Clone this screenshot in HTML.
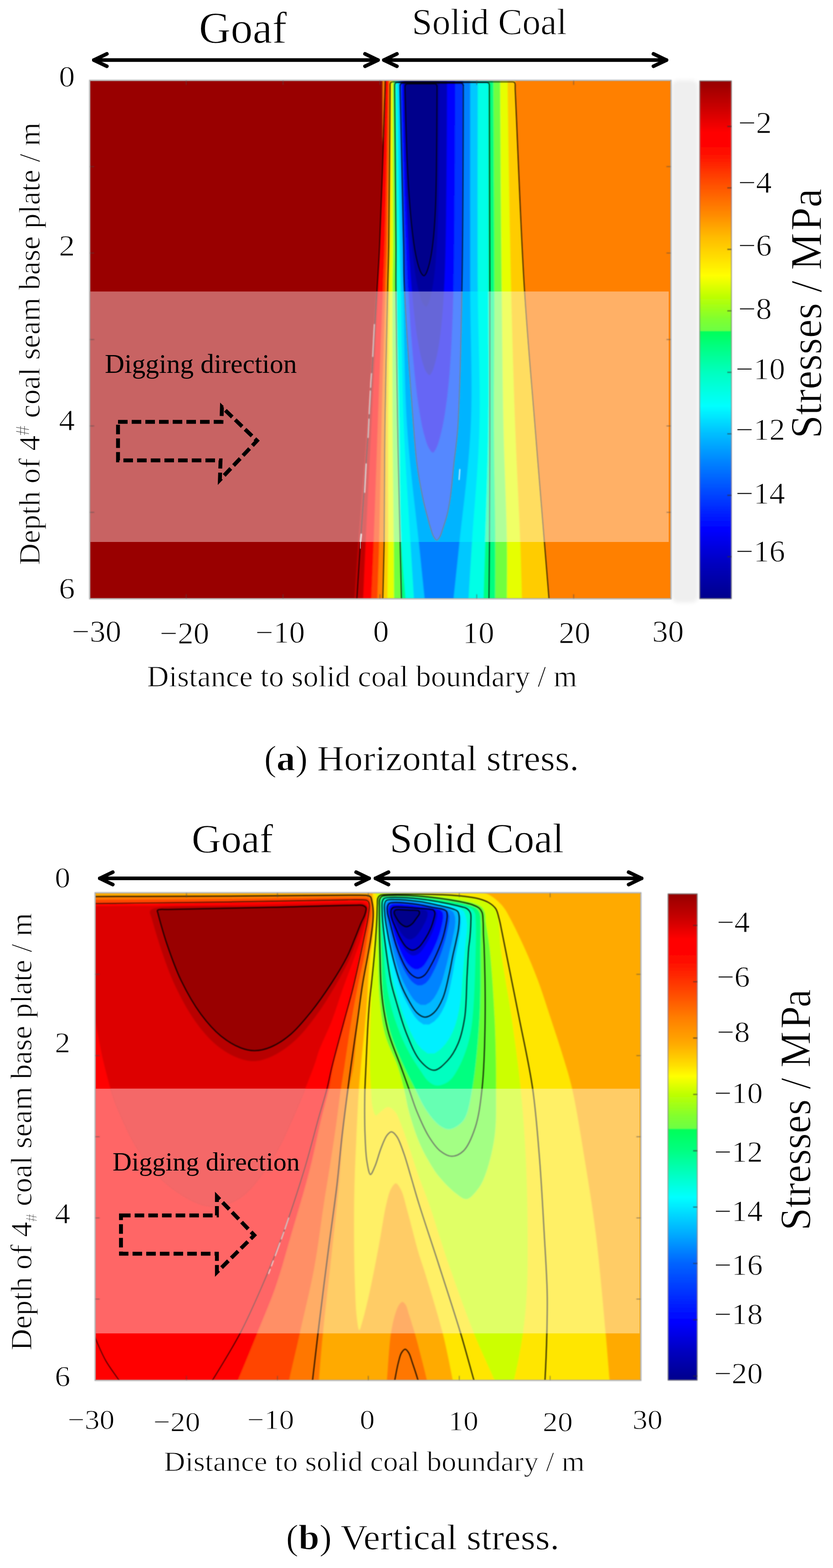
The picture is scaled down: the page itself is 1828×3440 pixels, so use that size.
<!DOCTYPE html>
<html lang="en"><head><meta charset="utf-8"><title>Stress distribution</title>
<style>html,body{margin:0;padding:0;background:#fff}svg{display:block}text{font-family:'Liberation Serif', 'Times New Roman', serif;fill:#000}.w text{stroke:#fff;stroke-width:1.1px}.w text.k{stroke:none}</style>
</head><body>
<svg width="1828" height="3440" viewBox="0 0 1828 3440">
<defs>
<filter id="blur1" x="-5%" y="-5%" width="110%" height="110%"><feGaussianBlur stdDeviation="1.4"/></filter>
<filter id="blur2" x="-5%" y="-5%" width="110%" height="110%"><feGaussianBlur stdDeviation="0.9"/></filter>
<filter id="blur3" x="-20%" y="-5%" width="140%" height="110%"><feGaussianBlur stdDeviation="4"/></filter>
<filter id="blurT" x="-5%" y="-20%" width="110%" height="140%"><feGaussianBlur stdDeviation="0.6"/></filter>
<clipPath id="clipA"><rect x="197.7" y="177.2" width="1273.9" height="1135.6"/></clipPath>
<clipPath id="clipAov"><rect x="197.7" y="639.5" width="1269.8" height="549.5"/></clipPath>
<clipPath id="clipB"><rect x="209.6" y="1959.5" width="1195.9" height="1068"/></clipPath>
<clipPath id="clipBov"><rect x="209.6" y="2388.5" width="1195.9" height="536.8"/></clipPath>
<linearGradient id="cbA" gradientUnits="userSpaceOnUse" x1="0" y1="177.5" x2="0" y2="1313.5"><stop offset="0.0000" stop-color="#960000"/><stop offset="0.0462" stop-color="#c40000"/><stop offset="0.0990" stop-color="#ff0000"/><stop offset="0.1342" stop-color="#ff0800"/><stop offset="0.1888" stop-color="#ff4400"/><stop offset="0.2557" stop-color="#ff8800"/><stop offset="0.3015" stop-color="#ffbb00"/><stop offset="0.3499" stop-color="#ffe600"/><stop offset="0.3763" stop-color="#ffff00"/><stop offset="0.4151" stop-color="#c0ff00"/><stop offset="0.4599" stop-color="#80ff30"/><stop offset="0.4824" stop-color="#6cff44"/><stop offset="0.4833" stop-color="#00ff58"/><stop offset="0.5128" stop-color="#00ff80"/><stop offset="0.5638" stop-color="#00ffc0"/><stop offset="0.6281" stop-color="#00ffff"/><stop offset="0.6800" stop-color="#00c0ff"/><stop offset="0.7390" stop-color="#0080ff"/><stop offset="0.8033" stop-color="#0040ff"/><stop offset="0.8675" stop-color="#0000ff"/><stop offset="0.9318" stop-color="#0000c0"/><stop offset="1.0000" stop-color="#00008c"/></linearGradient>
<linearGradient id="cbB" gradientUnits="userSpaceOnUse" x1="0" y1="1961" x2="0" y2="3028"><stop offset="0.0000" stop-color="#960000"/><stop offset="0.0459" stop-color="#c40000"/><stop offset="0.0928" stop-color="#ff0000"/><stop offset="0.1331" stop-color="#ff0800"/><stop offset="0.1978" stop-color="#ff4400"/><stop offset="0.2568" stop-color="#ff8000"/><stop offset="0.3083" stop-color="#ffaa00"/><stop offset="0.3533" stop-color="#ffe000"/><stop offset="0.3749" stop-color="#ffff00"/><stop offset="0.4114" stop-color="#c0ff00"/><stop offset="0.4583" stop-color="#80ff30"/><stop offset="0.4827" stop-color="#6cff44"/><stop offset="0.4836" stop-color="#00ff58"/><stop offset="0.5267" stop-color="#00ff80"/><stop offset="0.5754" stop-color="#00ffc0"/><stop offset="0.6242" stop-color="#00ffff"/><stop offset="0.7020" stop-color="#00a8ff"/><stop offset="0.7591" stop-color="#0064ff"/><stop offset="0.8238" stop-color="#0030ff"/><stop offset="0.8819" stop-color="#0000ff"/><stop offset="0.9410" stop-color="#0000c0"/><stop offset="1.0000" stop-color="#00008c"/></linearGradient>
</defs>
<rect width="1828" height="3440" fill="#fff"/>
<g id="figA" class="w">
<text x="436.5" y="93.5" font-size="96.5" text-anchor="start">Goaf</text>
<text x="904" y="75" font-size="80" text-anchor="start">Solid Coal</text>
<g fill="none" stroke="#000" stroke-linecap="round" stroke-linejoin="round">
<path d="M206 131.8H829.5" stroke-width="8"/><path d="M234.5 118.2L206 131.8L234.5 145.4" stroke-width="8"/><path d="M801 118.2L829.5 131.8L801 145.4" stroke-width="8"/>
<path d="M842.5 131.8H1462.5" stroke-width="8"/><path d="M871 118.2L842.5 131.8L871 145.4" stroke-width="8"/><path d="M1434 118.2L1462.5 131.8L1434 145.4" stroke-width="8"/>
</g>
<rect x="1474" y="176" width="58" height="1146" rx="14" fill="#efefef" filter="url(#blur3)"/>
<g clip-path="url(#clipA)">
<g filter="url(#blur1)">
<path d="M195.7 175.2H1473.6V1315.8H195.7Z" fill="#990000"/>
<path d="M840 170H1473.6V1320H840Z" fill="#ff8000"/>
<path d="M845 174C844.8 181.3 844.9 184.3 844.5 196C843.1 242.3 835.2 463 831.3 540C829.3 579 828.2 589.8 825.7 628C821.1 699.1 812.4 835.8 805.5 933C799.2 1022.1 791.2 1118.5 786.1 1189C782.5 1238.7 780.3 1273.7 777.4 1316L1205 1316C1201.6 1273.7 1198.7 1238.5 1194.7 1189C1189.1 1119.4 1181.3 1025.9 1174.4 938C1166.7 840.8 1157.6 742.3 1150.7 631C1142.5 498.7 1131.8 249.2 1130.6 196C1130.3 184 1130.6 181.3 1130.6 174Z" fill="#bd0000"/>
<path d="M846.3 174C846.2 181.3 846.2 184.3 845.9 196C844.6 242.3 837.9 463 834.7 540C833.1 579 832.2 589.8 830.3 628C826.8 699.1 820.1 835.8 815.2 933C810.8 1022.1 805.8 1118.5 802.5 1189C800.1 1238.7 798.7 1273.7 796.8 1316L1205 1316C1201.6 1273.7 1198.7 1238.5 1194.7 1189C1189.1 1119.4 1181.3 1025.9 1174.4 938C1166.7 840.8 1157.6 742.3 1150.7 631C1142.5 498.7 1131.8 249.2 1130.6 196C1130.3 184 1130.6 181.3 1130.6 174Z" fill="#ff0000"/>
<path d="M851.4 174C851.3 181.3 851.3 184.3 851.2 196C850.4 242.3 846.3 463 844 540C842.9 579 842.1 589.8 840.6 628C837.9 699.1 832.5 835.8 829 933C825.8 1022.1 822.8 1118.5 820.1 1189C818.2 1238.7 816.7 1273.7 814.9 1316L1205 1316C1201.6 1273.7 1198.7 1238.5 1194.7 1189C1189.1 1119.4 1181.3 1025.9 1174.4 938C1166.7 840.8 1157.6 742.3 1150.7 631C1142.5 498.7 1131.8 249.2 1130.6 196C1130.3 184 1130.6 181.3 1130.6 174Z" fill="#ff4000"/>
<path d="M853.8 174C853.8 181.3 853.8 184.3 853.7 196C853.2 242.3 850.5 463 848.7 540C847.8 579 847.1 589.8 846 628C843.9 699.1 839.6 835.8 837.2 933C835 1022.1 833.9 1118.5 832.1 1189C830.8 1238.7 829.4 1273.7 828 1316L1205 1316C1201.6 1273.7 1198.7 1238.5 1194.7 1189C1189.1 1119.4 1181.3 1025.9 1174.4 938C1166.7 840.8 1157.6 742.3 1150.7 631C1142.5 498.7 1131.8 249.2 1130.6 196C1130.3 184 1130.6 181.3 1130.6 174Z" fill="#ff8000"/>
<path d="M856 174C856 181.3 856.1 184.3 856 196C855.8 242.3 854.3 463 853 540C852.4 579 851.7 589.8 850.9 628C849.3 699.1 846 835.8 844.7 933C843.5 1022.1 844.1 1118.5 843 1189C842.2 1238.7 841 1273.7 840 1316L1205 1316C1201.6 1273.7 1198.7 1238.5 1194.7 1189C1189.1 1119.4 1181.3 1025.9 1174.4 938C1166.7 840.8 1157.6 742.3 1150.7 631C1142.5 498.7 1131.8 249.2 1130.6 196C1130.3 184 1130.6 181.3 1130.6 174Z" fill="#ffcc00"/>
<path d="M858.5 174C858.5 181.3 858.5 184.3 858.5 196C858.4 242.3 857.9 463 857 540C856.6 579 856 589.8 855.4 628C854.3 699.1 852.2 835.8 851.7 933C851.1 1022.1 852.2 1118.5 851.8 1189C851.5 1238.7 850.8 1273.7 850.2 1316L1145.4 1316C1144.2 1273.7 1143.5 1238.5 1141.7 1189C1139.1 1119.4 1133.8 1025.9 1130.6 938C1127 840.8 1124.1 742.2 1121.5 631C1118.4 498.6 1114.5 249.2 1114 196C1113.9 184 1114 181.3 1114 174Z" fill="#e6ff00"/>
<path d="M862 174C862 181.3 862 184.3 862 196C862 242.3 863 463 862.6 540C862.4 579 861.9 589.8 861.6 628C861.2 699.1 860.9 835.8 861.4 933C861.8 1022.1 863.5 1118.5 864 1189C864.4 1238.7 864.4 1273.7 864.6 1316L1112.5 1316C1112.5 1273.7 1113.2 1238.5 1112.5 1189C1111.5 1119.4 1106.9 1025.9 1105 938C1102.9 840.8 1102.1 742.2 1101 631C1099.6 498.6 1097.9 249.2 1097.7 196C1097.7 184 1097.7 181.3 1097.7 174Z" fill="#70ff40"/>
<path d="M866 174C866 181.3 865.9 184.3 866 196C866.2 242.3 868.8 463 869 540C869.1 579 868.6 589.8 868.8 628C869.2 699.1 870.9 835.8 872.5 933C874 1022.1 876.4 1118.5 878 1189C879.1 1238.7 880 1273.7 881 1316L1087 1316C1087 1273.7 1087.3 1238.5 1087 1189C1086.6 1119.4 1084.4 1025.9 1084 938C1083.6 840.8 1085.1 742.2 1085 631C1084.9 498.6 1083.1 249.2 1083 196C1083 184 1083 181.3 1083 174Z" fill="#00ff80"/>
<path d="M867.5 174C867.7 181.3 867.8 184.3 868 196C868.7 242.3 870.8 463 871 540C871.1 579 870.3 589.8 870.6 628C871.1 699.1 874.3 835.8 876 933C877.6 1022.1 877.4 1118.5 880.6 1189C882.9 1238.7 886.9 1273.7 890 1316L1061 1316C1062.3 1273.7 1063.5 1238.5 1065 1189C1067.1 1119.4 1070.8 1025.9 1072 938C1073.4 840.8 1072 742.2 1072 631C1072 498.6 1072 249.2 1072 196C1072 184 1072 181.3 1072 174Z" fill="#00ffe6"/>
<path d="M872.5 174C872.7 181.3 872.8 184.3 873 196C873.8 242.3 875.5 463 877 540C877.7 579 878.4 589.8 879.3 628C881 699.1 882.1 835.8 886 933C889.5 1022.1 896.5 1118.5 900.7 1189C903.7 1238.7 905.9 1273.7 908.5 1316L1028 1316C1030.6 1273.7 1032.7 1238.5 1035.8 1189C1040.2 1119.4 1049.7 1025.9 1052 938C1054.6 840.9 1049.1 742.2 1048.4 631C1047.6 498.6 1048.4 249.2 1048.4 196C1048.4 184 1048.4 181.3 1048.4 174Z" fill="#00c8ff"/>
<path d="M876.5 174C876.7 181.3 876.8 184.3 877 196C877.9 242.3 881.4 463 883 540C883.8 579 884.2 589.8 885.2 628C887 699.1 886.8 835.9 893 933C898.7 1022.2 911.8 1118.5 919 1189C924.1 1238.7 927.7 1273.7 932 1316L995 1316C999.5 1273.7 1003.4 1238.5 1008.4 1189C1015.5 1119.5 1028.8 1026 1033 938C1037.6 840.9 1032.2 742.2 1032 631C1031.8 498.6 1032 249.2 1032 196C1032 184 1032 181.3 1032 174Z" fill="#0080ff"/>
<path d="M878 174C878 181.3 877.9 184.3 878 196C878.5 242.3 884.5 463 886 540C886.8 579 885.8 589.9 887.4 628C890.3 699.1 902 862.2 907.5 933C910.4 970.8 911.7 992.3 915.3 1020C918.7 1045.5 923.8 1072.8 928 1093C931 1107.5 933.9 1118.1 937 1130C939.9 1141.1 943.2 1153.4 946 1162C947.9 1168 949.1 1173 951.5 1177C953.5 1180.3 956.2 1185 958.5 1185C960.8 1185 963.5 1180.3 965.5 1177C967.9 1173 969 1168 971 1162C973.9 1153.4 978.2 1141.1 981 1130C984 1118.2 985.9 1107.5 988 1093C991 1072.8 993 1045 995.7 1020C998.5 993.5 1002.1 974.1 1004.6 938C1009.4 868.3 1011.7 742.2 1013.7 631C1016.1 498.6 1016.5 249.2 1016.7 196C1016.7 184 1016.7 181.3 1016.7 174Z" fill="#0030ff"/>
<path d="M882 174C882 181.3 881.9 184.6 882 196C882.5 236.8 886.1 394.9 888.8 474.9C890.8 535.5 892.5 581.2 895.6 634.3C898.7 687.5 902.6 746.4 907.2 793.8C910.8 832 914.6 867.6 919.4 897.4C923.1 920.1 927.2 941.4 931.6 957.1C934.6 967.8 937.3 977.1 941.2 983.4C943.8 987.8 947.3 993.1 950 993C952.6 992.9 955.1 987.5 957.4 983.4C960.4 977.7 962.7 970.1 965.2 961.1C968.8 948.3 972.4 931.3 975.5 913.3C979.4 890.2 982.6 862.9 985.3 833.6C988.6 797.8 990.8 757.3 992.6 714C994.8 663 995.5 612.7 996.5 546.7C998 451.2 998.8 242.8 999 196C999 184.3 999 181.3 999 174Z" fill="#0000ff"/>
<path d="M885.5 174C885.5 181.3 885.4 184.9 885.5 196C886 231.2 889 352.5 891.2 415.4C892.9 463.1 894.3 499.1 896.9 540.8C899.5 582.7 902.8 629 906.6 666.2C909.6 696.4 912.8 724.4 916.9 747.8C919.9 765.7 923.4 782.4 927.1 794.8C929.6 803.2 931.9 810.5 935.1 815.5C937.3 818.9 940.3 823.1 942.5 823C944.6 822.9 946.5 818.7 948.3 815.5C950.7 811 952.5 804.9 954.4 797.9C957.3 787.8 960.1 774.5 962.5 760.3C965.6 742.1 968.1 720.6 970.2 697.6C972.8 669.5 974.6 637.5 976 603.5C977.7 563.4 978.3 523.8 979.1 471.9C980.2 396.7 980.9 236.5 981 196C981 184.6 981 181.3 981 174Z" fill="#0000b8"/>
<path d="M888 174C888 181.3 887.8 185.2 888 196C888.4 225.6 890.8 315 892.7 362.9C894.1 399.2 895.3 426.6 897.4 458.4C899.5 490.2 902.3 525.4 905.4 553.8C907.9 576.7 910.5 598 913.9 615.8C916.4 629.4 919.3 642.1 922.3 651.5C924.4 657.9 926.3 663.5 928.9 667.3C930.7 669.9 933.2 673.2 935 673C936.7 672.9 938 669.7 939.4 667.3C941.2 663.9 942.5 659.3 944 653.9C946.1 646.2 948.3 636.1 950.1 625.3C952.4 611.5 954.3 595.1 955.9 577.6C957.8 556.2 959.1 531.9 960.2 506.1C961.5 475.5 962 445.4 962.5 405.9C963.4 348.7 963.9 230.2 964 196C964 184.9 964 181.3 964 174Z" fill="#00009c"/>
<path d="M889 174C889 181.3 888.8 185.5 889 196C889.4 222.9 891.5 298.1 893.1 339.1C894.4 370.2 895.4 393.7 897.3 420.9C899.2 448.2 901.6 478.4 904.4 502.8C906.6 522.4 908.9 540.7 911.8 555.9C914.1 567.6 916.6 578.5 919.3 586.6C921.1 592.1 922.8 596.9 925.1 600.1C926.7 602.4 928.9 605.1 930.5 605C932.1 604.9 933.5 602.2 934.8 600.1C936.6 597.2 937.9 593.2 939.3 588.6C941.4 582.1 943.5 573.4 945.3 564.1C947.6 552.2 949.4 538.2 951 523.2C952.9 504.8 954.2 484 955.3 461.9C956.6 435.6 957 409.8 957.6 376C958.4 326.9 958.9 227.1 959 196C959 185.1 959 181.3 959 174Z" fill="#00008b"/>
</g>
<g fill="none" stroke="#000" stroke-opacity="0.9" stroke-width="2" filter="url(#blur2)">
<path d="M845.5 174C845.3 181.3 845.3 184.3 845 196C843.6 242.3 836.2 463 832.6 540C830.8 579 829.8 589.8 827.5 628C823.3 699.1 815.4 835.8 809 933C803.2 1022.1 795.7 1118.5 791 1189C787.7 1238.7 785.7 1273.7 783 1316"/>
<path d="M840 1316C841 1273.7 842.2 1238.7 843 1189C844.1 1118.5 843.5 1022.1 844.7 933C846 835.8 849.3 699.1 850.9 628C851.7 589.8 852.4 579 853 540C854.3 463 855 310.7 856 196L856 185.5Q856 179.5 862 179.5L1124.6 179.5Q1130.6 179.5 1130.6 185.5L1130.6 196C1137.3 341 1142.5 498.7 1150.7 631C1157.6 742.3 1166.7 840.8 1174.4 938C1181.3 1025.9 1189.1 1119.4 1194.7 1189C1198.7 1238.5 1201.6 1273.7 1205 1316"/>
<path d="M881 1316C880 1273.7 879.1 1238.7 878 1189C876.4 1118.5 874 1022.1 872.5 933C870.9 835.8 869.2 699.1 868.8 628C868.6 589.8 869.1 579 869 540C868.8 463 867 310.7 866 196L866 187Q866 181 872 181L1068 181Q1074 181 1074 187L1074 196C1074.3 341 1074.8 498.6 1075 631C1075.1 742.2 1075.2 840.8 1075 938C1074.9 1025.9 1074.6 1119.4 1074.2 1189C1073.9 1238.5 1073.4 1273.7 1073 1316"/>
<path d="M878 188Q878 182.5 884 182.5L1010.7 182.5Q1016.7 182.5 1016.7 188"/>
<path d="M878 186C878 189.3 877.9 190.3 878 196C878.4 229.4 884.5 463 886 540C886.8 579 885.8 589.9 887.4 628C890.3 699.1 902 862.2 907.5 933C910.4 970.8 911.7 992.3 915.3 1020C918.7 1045.5 923.8 1072.8 928 1093C931 1107.5 933.9 1118.1 937 1130C939.9 1141.1 943.2 1153.4 946 1162C947.9 1168 949.1 1173 951.5 1177C953.5 1180.3 956.2 1185 958.5 1185C960.8 1185 963.5 1180.3 965.5 1177C967.9 1173 969 1168 971 1162C973.9 1153.4 978.2 1141.1 981 1130C984 1118.2 985.9 1107.5 988 1093C991 1072.8 993 1045 995.7 1020C998.5 993.5 1002.1 974.1 1004.6 938C1009.4 868.3 1011.7 742.2 1013.7 631C1016.1 498.6 1016.6 234.2 1016.7 196C1016.7 190.2 1016.7 189.3 1016.7 186"/>
<path d="M889 190Q889 184 895 184L953 184Q959 184 959 190"/>
<path d="M889 188C889 190.7 888.9 191.7 889 196C889.3 214.2 891.5 298.1 893.1 339.1C894.4 370.2 895.4 393.7 897.3 420.9C899.2 448.2 901.6 478.4 904.4 502.8C906.6 522.4 908.9 540.7 911.8 555.9C914.1 567.6 916.6 578.5 919.3 586.6C921.1 592.1 922.8 596.9 925.1 600.1C926.7 602.4 928.9 605.1 930.5 605C932.1 604.9 933.5 602.2 934.8 600.1C936.6 597.2 937.9 593.2 939.3 588.6C941.4 582.1 943.5 573.4 945.3 564.1C947.6 552.2 949.4 538.2 951 523.2C952.9 504.8 954.2 484 955.3 461.9C956.6 435.6 957 409.8 957.6 376C958.4 326.9 958.9 216.9 959 196C959 191.6 959 190.7 959 188"/>
</g>
<path d="M197.7 178.4H846" stroke="#e81000" stroke-width="3.2" fill="none" filter="url(#blur2)"/>
<path d="M197.7 181.8H846" stroke="#5c0000" stroke-width="3.4" fill="none" filter="url(#blur2)"/>
<path d="M846 179.4H1130" stroke="#000" stroke-opacity="0.55" stroke-width="2.5" fill="none" filter="url(#blur2)"/>
</g>
<g clip-path="url(#clipAov)">
<g filter="url(#blur1)">
<path d="M195.7 175.2H1473.6V1315.8H195.7Z" fill="#c86464"/>
<path d="M840 170H1473.6V1320H840Z" fill="#ffb066"/>
<path d="M845 174C844.8 181.3 844.9 184.3 844.5 196C843.1 242.3 835.2 463 831.3 540C829.3 579 828.2 589.8 825.7 628C821.1 699.1 812.4 835.8 805.5 933C799.2 1022.1 791.2 1118.5 786.1 1189C782.5 1238.7 780.3 1273.7 777.4 1316L1205 1316C1201.6 1273.7 1198.7 1238.5 1194.7 1189C1189.1 1119.4 1181.3 1025.9 1174.4 938C1166.7 840.8 1157.6 742.3 1150.7 631C1142.5 498.7 1131.8 249.2 1130.6 196C1130.3 184 1130.6 181.3 1130.6 174Z" fill="#dc6666"/>
<path d="M846.3 174C846.2 181.3 846.2 184.3 845.9 196C844.6 242.3 837.9 463 834.7 540C833.1 579 832.2 589.8 830.3 628C826.8 699.1 820.1 835.8 815.2 933C810.8 1022.1 805.8 1118.5 802.5 1189C800.1 1238.7 798.7 1273.7 796.8 1316L1205 1316C1201.6 1273.7 1198.7 1238.5 1194.7 1189C1189.1 1119.4 1181.3 1025.9 1174.4 938C1166.7 840.8 1157.6 742.3 1150.7 631C1142.5 498.7 1131.8 249.2 1130.6 196C1130.3 184 1130.6 181.3 1130.6 174Z" fill="#ff6666"/>
<path d="M851.4 174C851.3 181.3 851.3 184.3 851.2 196C850.4 242.3 846.3 463 844 540C842.9 579 842.1 589.8 840.6 628C837.9 699.1 832.5 835.8 829 933C825.8 1022.1 822.8 1118.5 820.1 1189C818.2 1238.7 816.7 1273.7 814.9 1316L1205 1316C1201.6 1273.7 1198.7 1238.5 1194.7 1189C1189.1 1119.4 1181.3 1025.9 1174.4 938C1166.7 840.8 1157.6 742.3 1150.7 631C1142.5 498.7 1131.8 249.2 1130.6 196C1130.3 184 1130.6 181.3 1130.6 174Z" fill="#ff8a66"/>
<path d="M853.8 174C853.8 181.3 853.8 184.3 853.7 196C853.2 242.3 850.5 463 848.7 540C847.8 579 847.1 589.8 846 628C843.9 699.1 839.6 835.8 837.2 933C835 1022.1 833.9 1118.5 832.1 1189C830.8 1238.7 829.4 1273.7 828 1316L1205 1316C1201.6 1273.7 1198.7 1238.5 1194.7 1189C1189.1 1119.4 1181.3 1025.9 1174.4 938C1166.7 840.8 1157.6 742.3 1150.7 631C1142.5 498.7 1131.8 249.2 1130.6 196C1130.3 184 1130.6 181.3 1130.6 174Z" fill="#ffb066"/>
<path d="M856 174C856 181.3 856.1 184.3 856 196C855.8 242.3 854.3 463 853 540C852.4 579 851.7 589.8 850.9 628C849.3 699.1 846 835.8 844.7 933C843.5 1022.1 844.1 1118.5 843 1189C842.2 1238.7 841 1273.7 840 1316L1205 1316C1201.6 1273.7 1198.7 1238.5 1194.7 1189C1189.1 1119.4 1181.3 1025.9 1174.4 938C1166.7 840.8 1157.6 742.3 1150.7 631C1142.5 498.7 1131.8 249.2 1130.6 196C1130.3 184 1130.6 181.3 1130.6 174Z" fill="#ffdd60"/>
<path d="M858.5 174C858.5 181.3 858.5 184.3 858.5 196C858.4 242.3 857.9 463 857 540C856.6 579 856 589.8 855.4 628C854.3 699.1 852.2 835.8 851.7 933C851.1 1022.1 852.2 1118.5 851.8 1189C851.5 1238.7 850.8 1273.7 850.2 1316L1145.4 1316C1144.2 1273.7 1143.5 1238.5 1141.7 1189C1139.1 1119.4 1133.8 1025.9 1130.6 938C1127 840.8 1124.1 742.2 1121.5 631C1118.4 498.6 1114.5 249.2 1114 196C1113.9 184 1114 181.3 1114 174Z" fill="#f0ff66"/>
<path d="M862 174C862 181.3 862 184.3 862 196C862 242.3 863 463 862.6 540C862.4 579 861.9 589.8 861.6 628C861.2 699.1 860.9 835.8 861.4 933C861.8 1022.1 863.5 1118.5 864 1189C864.4 1238.7 864.4 1273.7 864.6 1316L1112.5 1316C1112.5 1273.7 1113.2 1238.5 1112.5 1189C1111.5 1119.4 1106.9 1025.9 1105 938C1102.9 840.8 1102.1 742.2 1101 631C1099.6 498.6 1097.9 249.2 1097.7 196C1097.7 184 1097.7 181.3 1097.7 174Z" fill="#b0ff99"/>
<path d="M866 174C866 181.3 865.9 184.3 866 196C866.2 242.3 868.8 463 869 540C869.1 579 868.6 589.8 868.8 628C869.2 699.1 870.9 835.8 872.5 933C874 1022.1 876.4 1118.5 878 1189C879.1 1238.7 880 1273.7 881 1316L1087 1316C1087 1273.7 1087.3 1238.5 1087 1189C1086.6 1119.4 1084.4 1025.9 1084 938C1083.6 840.8 1085.1 742.2 1085 631C1084.9 498.6 1083.1 249.2 1083 196C1083 184 1083 181.3 1083 174Z" fill="#66ffbb"/>
<path d="M867.5 174C867.7 181.3 867.8 184.3 868 196C868.7 242.3 870.8 463 871 540C871.1 579 870.3 589.8 870.6 628C871.1 699.1 874.3 835.8 876 933C877.6 1022.1 877.4 1118.5 880.6 1189C882.9 1238.7 886.9 1273.7 890 1316L1061 1316C1062.3 1273.7 1063.5 1238.5 1065 1189C1067.1 1119.4 1070.8 1025.9 1072 938C1073.4 840.8 1072 742.2 1072 631C1072 498.6 1072 249.2 1072 196C1072 184 1072 181.3 1072 174Z" fill="#00fff0"/>
<path d="M872.5 174C872.7 181.3 872.8 184.3 873 196C873.8 242.3 875.5 463 877 540C877.7 579 878.4 589.8 879.3 628C881 699.1 882.1 835.8 886 933C889.5 1022.1 896.5 1118.5 900.7 1189C903.7 1238.7 905.9 1273.7 908.5 1316L1028 1316C1030.6 1273.7 1032.7 1238.5 1035.8 1189C1040.2 1119.4 1049.7 1025.9 1052 938C1054.6 840.9 1049.1 742.2 1048.4 631C1047.6 498.6 1048.4 249.2 1048.4 196C1048.4 184 1048.4 181.3 1048.4 174Z" fill="#00e0ff"/>
<path d="M876.5 174C876.7 181.3 876.8 184.3 877 196C877.9 242.3 881.4 463 883 540C883.8 579 884.2 589.8 885.2 628C887 699.1 886.8 835.9 893 933C898.7 1022.2 911.8 1118.5 919 1189C924.1 1238.7 927.7 1273.7 932 1316L995 1316C999.5 1273.7 1003.4 1238.5 1008.4 1189C1015.5 1119.5 1028.8 1026 1033 938C1037.6 840.9 1032.2 742.2 1032 631C1031.8 498.6 1032 249.2 1032 196C1032 184 1032 181.3 1032 174Z" fill="#00b4ff"/>
<path d="M878 174C878 181.3 877.9 184.3 878 196C878.5 242.3 884.5 463 886 540C886.8 579 885.8 589.9 887.4 628C890.3 699.1 902 862.2 907.5 933C910.4 970.8 911.7 992.3 915.3 1020C918.7 1045.5 923.8 1072.8 928 1093C931 1107.5 933.9 1118.1 937 1130C939.9 1141.1 943.2 1153.4 946 1162C947.9 1168 949.1 1173 951.5 1177C953.5 1180.3 956.2 1185 958.5 1185C960.8 1185 963.5 1180.3 965.5 1177C967.9 1173 969 1168 971 1162C973.9 1153.4 978.2 1141.1 981 1130C984 1118.2 985.9 1107.5 988 1093C991 1072.8 993 1045 995.7 1020C998.5 993.5 1002.1 974.1 1004.6 938C1009.4 868.3 1011.7 742.2 1013.7 631C1016.1 498.6 1016.5 249.2 1016.7 196C1016.7 184 1016.7 181.3 1016.7 174Z" fill="#5588ff"/>
<path d="M882 174C882 181.3 881.9 184.6 882 196C882.5 236.8 886.1 394.9 888.8 474.9C890.8 535.5 892.5 581.2 895.6 634.3C898.7 687.5 902.6 746.4 907.2 793.8C910.8 832 914.6 867.6 919.4 897.4C923.1 920.1 927.2 941.4 931.6 957.1C934.6 967.8 937.3 977.1 941.2 983.4C943.8 987.8 947.3 993.1 950 993C952.6 992.9 955.1 987.5 957.4 983.4C960.4 977.7 962.7 970.1 965.2 961.1C968.8 948.3 972.4 931.3 975.5 913.3C979.4 890.2 982.6 862.9 985.3 833.6C988.6 797.8 990.8 757.3 992.6 714C994.8 663 995.5 612.7 996.5 546.7C998 451.2 998.8 242.8 999 196C999 184.3 999 181.3 999 174Z" fill="#6666f5"/>
<path d="M885.5 174C885.5 181.3 885.4 184.9 885.5 196C886 231.2 889 352.5 891.2 415.4C892.9 463.1 894.3 499.1 896.9 540.8C899.5 582.7 902.8 629 906.6 666.2C909.6 696.4 912.8 724.4 916.9 747.8C919.9 765.7 923.4 782.4 927.1 794.8C929.6 803.2 931.9 810.5 935.1 815.5C937.3 818.9 940.3 823.1 942.5 823C944.6 822.9 946.5 818.7 948.3 815.5C950.7 811 952.5 804.9 954.4 797.9C957.3 787.8 960.1 774.5 962.5 760.3C965.6 742.1 968.1 720.6 970.2 697.6C972.8 669.5 974.6 637.5 976 603.5C977.7 563.4 978.3 523.8 979.1 471.9C980.2 396.7 980.9 236.5 981 196C981 184.6 981 181.3 981 174Z" fill="#6666d8"/>
<path d="M888 174C888 181.3 887.8 185.2 888 196C888.4 225.6 890.8 315 892.7 362.9C894.1 399.2 895.3 426.6 897.4 458.4C899.5 490.2 902.3 525.4 905.4 553.8C907.9 576.7 910.5 598 913.9 615.8C916.4 629.4 919.3 642.1 922.3 651.5C924.4 657.9 926.3 663.5 928.9 667.3C930.7 669.9 933.2 673.2 935 673C936.7 672.9 938 669.7 939.4 667.3C941.2 663.9 942.5 659.3 944 653.9C946.1 646.2 948.3 636.1 950.1 625.3C952.4 611.5 954.3 595.1 955.9 577.6C957.8 556.2 959.1 531.9 960.2 506.1C961.5 475.5 962 445.4 962.5 405.9C963.4 348.7 963.9 230.2 964 196C964 184.9 964 181.3 964 174Z" fill="#6666cc"/>
<path d="M889 174C889 181.3 888.8 185.5 889 196C889.4 222.9 891.5 298.1 893.1 339.1C894.4 370.2 895.4 393.7 897.3 420.9C899.2 448.2 901.6 478.4 904.4 502.8C906.6 522.4 908.9 540.7 911.8 555.9C914.1 567.6 916.6 578.5 919.3 586.6C921.1 592.1 922.8 596.9 925.1 600.1C926.7 602.4 928.9 605.1 930.5 605C932.1 604.9 933.5 602.2 934.8 600.1C936.6 597.2 937.9 593.2 939.3 588.6C941.4 582.1 943.5 573.4 945.3 564.1C947.6 552.2 949.4 538.2 951 523.2C952.9 504.8 954.2 484 955.3 461.9C956.6 435.6 957 409.8 957.6 376C958.4 326.9 958.9 227.1 959 196C959 185.1 959 181.3 959 174Z" fill="#6464c8"/>
</g>
<g fill="none" stroke="#7a7a7a" stroke-width="1.7" filter="url(#blur2)">
<path d="M845.5 174C845.3 181.3 845.3 184.3 845 196C843.6 242.3 836.2 463 832.6 540C830.8 579 829.8 589.8 827.5 628C823.3 699.1 815.4 835.8 809 933C803.2 1022.1 795.7 1118.5 791 1189C787.7 1238.7 785.7 1273.7 783 1316"/>
<path d="M840 1316C841 1273.7 842.2 1238.7 843 1189C844.1 1118.5 843.5 1022.1 844.7 933C846 835.8 849.3 699.1 850.9 628C851.7 589.8 852.4 579 853 540C854.3 463 855 310.7 856 196L856 185.5Q856 179.5 862 179.5L1124.6 179.5Q1130.6 179.5 1130.6 185.5L1130.6 196C1137.3 341 1142.5 498.7 1150.7 631C1157.6 742.3 1166.7 840.8 1174.4 938C1181.3 1025.9 1189.1 1119.4 1194.7 1189C1198.7 1238.5 1201.6 1273.7 1205 1316"/>
<path d="M881 1316C880 1273.7 879.1 1238.7 878 1189C876.4 1118.5 874 1022.1 872.5 933C870.9 835.8 869.2 699.1 868.8 628C868.6 589.8 869.1 579 869 540C868.8 463 867 310.7 866 196L866 187Q866 181 872 181L1068 181Q1074 181 1074 187L1074 196C1074.3 341 1074.8 498.6 1075 631C1075.1 742.2 1075.2 840.8 1075 938C1074.9 1025.9 1074.6 1119.4 1074.2 1189C1073.9 1238.5 1073.4 1273.7 1073 1316"/>
<path d="M878 188Q878 182.5 884 182.5L1010.7 182.5Q1016.7 182.5 1016.7 188"/>
<path d="M878 186C878 189.3 877.9 190.3 878 196C878.4 229.4 884.5 463 886 540C886.8 579 885.8 589.9 887.4 628C890.3 699.1 902 862.2 907.5 933C910.4 970.8 911.7 992.3 915.3 1020C918.7 1045.5 923.8 1072.8 928 1093C931 1107.5 933.9 1118.1 937 1130C939.9 1141.1 943.2 1153.4 946 1162C947.9 1168 949.1 1173 951.5 1177C953.5 1180.3 956.2 1185 958.5 1185C960.8 1185 963.5 1180.3 965.5 1177C967.9 1173 969 1168 971 1162C973.9 1153.4 978.2 1141.1 981 1130C984 1118.2 985.9 1107.5 988 1093C991 1072.8 993 1045 995.7 1020C998.5 993.5 1002.1 974.1 1004.6 938C1009.4 868.3 1011.7 742.2 1013.7 631C1016.1 498.6 1016.6 234.2 1016.7 196C1016.7 190.2 1016.7 189.3 1016.7 186"/>
<path d="M889 190Q889 184 895 184L953 184Q959 184 959 190"/>
<path d="M889 188C889 190.7 888.9 191.7 889 196C889.3 214.2 891.5 298.1 893.1 339.1C894.4 370.2 895.4 393.7 897.3 420.9C899.2 448.2 901.6 478.4 904.4 502.8C906.6 522.4 908.9 540.7 911.8 555.9C914.1 567.6 916.6 578.5 919.3 586.6C921.1 592.1 922.8 596.9 925.1 600.1C926.7 602.4 928.9 605.1 930.5 605C932.1 604.9 933.5 602.2 934.8 600.1C936.6 597.2 937.9 593.2 939.3 588.6C941.4 582.1 943.5 573.4 945.3 564.1C947.6 552.2 949.4 538.2 951 523.2C952.9 504.8 954.2 484 955.3 461.9C956.6 435.6 957 409.8 957.6 376C958.4 326.9 958.9 216.9 959 196C959 191.6 959 190.7 959 188"/>
</g>
<g fill="none" stroke="#fff" stroke-linecap="round" filter="url(#blur2)">
<path d="M821.5 712L817.5 790L814 835L810.5 900L808.8 940L806.5 985" stroke-width="2.6" stroke-opacity="0.62" stroke-dasharray="70 38 30 8 50 12 40 30"/>
<path d="M803.5 1018L800.3 1080" stroke-width="2.8" stroke-opacity="0.7"/>
<path d="M792.8 1172L791.2 1188" stroke-width="3.2" stroke-opacity="0.9"/>
<path d="M1009 1030L1007.5 1052" stroke-width="2.6" stroke-opacity="0.8"/>
</g>
</g>
<path d="M791.2 1188L790.3 1203" stroke="#fff" stroke-width="3" stroke-opacity="0.75" stroke-linecap="round" fill="none" filter="url(#blur2)"/>
<g fill="none" stroke="#4a4a4a" stroke-opacity="0.75" stroke-width="1.5" filter="url(#blur2)"><rect x="196.8" y="176.3" width="1275.7" height="1137.4" stroke="#9a9a9a" stroke-opacity="1" stroke-width="2.2"/><path d="M408.7 177.2v9M408.7 1312.8v-9M621.2 177.2v9M621.2 1312.8v-9M833.7 177.2v9M833.7 1312.8v-9M1046.2 177.2v9M1046.2 1312.8v-9M1258.7 177.2v9M1258.7 1312.8v-9M197.7 365.6h9M1471.6 365.6h-9M197.7 555.2h9M1471.6 555.2h-9M197.7 744.8h9M1471.6 744.8h-9M197.7 934.4h9M1471.6 934.4h-9M197.7 1124h9M1471.6 1124h-9"/></g>
<text x="230" y="818" font-size="59.5" text-anchor="start" class="k">Digging direction</text>
<path d="M259 925.5L486 925.5L487 893L564 967L482.5 1053L484 1010L259 1010Z" fill="none" stroke="#000" stroke-width="8.5" stroke-dasharray="21 9"/>
<text transform="translate(146.7 189.5) scale(1.08 1)" font-size="65" text-anchor="middle">0</text>
<text transform="translate(146.7 561.3) scale(1.08 1)" font-size="65" text-anchor="middle">2</text>
<text transform="translate(146.7 943.7) scale(1.08 1)" font-size="65" text-anchor="middle">4</text>
<text transform="translate(146.7 1313) scale(1.08 1)" font-size="65" text-anchor="middle">6</text>
<text transform="translate(87 1240) rotate(-90)" font-size="66.5" text-anchor="start">Depth of 4<tspan font-size="44" dy="-23" fill="#333">#</tspan><tspan dy="23"> coal seam base plate / m</tspan></text>
<text transform="translate(212 1408) scale(1.035 1)" font-size="67" text-anchor="middle">−30</text>
<text transform="translate(405 1411.5) scale(1.035 1)" font-size="67" text-anchor="middle">−20</text>
<text transform="translate(615 1409.5) scale(1.035 1)" font-size="67" text-anchor="middle">−10</text>
<text transform="translate(836 1408) scale(1.035 1)" font-size="67" text-anchor="middle">0</text>
<text transform="translate(1050 1411) scale(1.035 1)" font-size="67" text-anchor="middle">10</text>
<text transform="translate(1261 1411) scale(1.035 1)" font-size="67" text-anchor="middle">20</text>
<text transform="translate(1466 1408) scale(1.035 1)" font-size="67" text-anchor="middle">30</text>
<text transform="translate(322.5 1506) scale(1.006 1)" font-size="66" text-anchor="start">Distance to solid coal boundary / m</text>
<rect x="1535.5" y="177.5" width="69.5" height="1136" fill="url(#cbA)" stroke="#666" stroke-width="1.5" filter="url(#blur2)"/>
<path d="M1605 277.4h-9M1605 412.3h-9M1605 547.1h-9M1605 682h-9M1605 816.8h-9M1605 951.7h-9M1605 1086.6h-9M1605 1221.4h-9" stroke="#333" stroke-width="1.6" fill="none" filter="url(#blur2)"/>
<text transform="translate(1620 291.5) scale(1.035 1)" font-size="67" text-anchor="start">−2</text>
<text transform="translate(1620 423) scale(1.035 1)" font-size="67" text-anchor="start">−4</text>
<text transform="translate(1620 561) scale(1.035 1)" font-size="67" text-anchor="start">−6</text>
<text transform="translate(1620 700) scale(1.035 1)" font-size="67" text-anchor="start">−8</text>
<text transform="translate(1614.5 831.5) scale(1.035 1)" font-size="67" text-anchor="start">−10</text>
<text transform="translate(1614.5 965) scale(1.035 1)" font-size="67" text-anchor="start">−12</text>
<text transform="translate(1614.5 1104.5) scale(1.035 1)" font-size="67" text-anchor="start">−14</text>
<text transform="translate(1614.5 1231.5) scale(1.035 1)" font-size="67" text-anchor="start">−16</text>
<text transform="translate(1801.5 962) rotate(-90) scale(0.942 1)" font-size="98" text-anchor="start">Stresses / M<tspan dx="4.4">P</tspan><tspan dx="0.6">a</tspan></text>
<text x="925" y="1689.5" font-size="79" text-anchor="middle" textLength="691" lengthAdjust="spacingAndGlyphs">(<tspan font-weight="bold">a</tspan>) Horizontal stress.</text>
</g>
<g id="figB" class="w">
<text x="420.5" y="1869.5" font-size="89.5" text-anchor="start">Goaf</text>
<text x="855" y="1869.5" font-size="90" text-anchor="start">Solid Coal</text>
<g fill="none" stroke="#000" stroke-linecap="round" stroke-linejoin="round">
<path d="M219 1927H810" stroke-width="8"/><path d="M247.5 1913.4L219 1927L247.5 1940.6" stroke-width="8"/><path d="M781.5 1913.4L810 1927L781.5 1940.6" stroke-width="8"/>
<path d="M824 1927H1408" stroke-width="8"/><path d="M852.5 1913.4L824 1927L852.5 1940.6" stroke-width="8"/><path d="M1379.5 1913.4L1408 1927L1379.5 1940.6" stroke-width="8"/>
</g>
<g clip-path="url(#clipB)">
<g filter="url(#blur1)">
<path d="M206.6 1956.5H1408.5V3030.5H206.6Z" fill="#ffaa00"/>
<path d="M817 1950C817.7 1958.3 818.3 1966.7 819 1975C819.8 1983.3 821.4 1991.8 821.5 2000C821.6 2007.8 820.6 2014.4 820 2023C819.3 2033.9 818.8 2047.4 817.5 2060C816.2 2073.1 813.7 2083.6 812 2100C809.3 2125.8 807.3 2171.2 805 2200C803.3 2222 801.9 2237 800 2258C797.7 2283 794.2 2316 792 2340C790.3 2358.7 789.1 2370.1 787.7 2390C785.7 2419.5 783.6 2464.2 782 2500C780.4 2534.1 778.8 2566.7 778 2600C777.2 2633.3 776.9 2665.2 777 2700C777.1 2737.9 777.7 2784.4 779 2819C780 2845.7 780.7 2871.8 783 2890C784.4 2901.5 786.3 2917.8 788.5 2918C790.1 2918.1 791.9 2909.8 794 2903C798.2 2889.4 804.3 2864.7 809.6 2841C816.7 2809.7 824.9 2766.4 831.5 2731.5C837.6 2699.7 842.5 2662.5 848 2640C851.3 2626.5 853.6 2615.8 858 2608C861.1 2602.6 865.1 2595.9 868.7 2596C872.5 2596.1 876.5 2603.4 880 2610C885.9 2621.2 889.6 2640.9 895 2660C902.2 2685.6 911.9 2726.1 919 2750C923.8 2766.1 926.6 2772.7 932 2790C941.8 2821.7 961 2883 971.7 2925C980.9 2961.2 989.5 3006.9 993.6 3027C995.3 3035.4 995.9 3039 997 3045L1339 3045C1338.5 3039 1338.2 3035.4 1337.5 3027C1335.8 3007 1332.7 2966 1329 2926C1323.6 2867.3 1316 2776.9 1307.6 2709C1300.1 2648.5 1291.1 2593.2 1282 2538C1273.5 2486 1264.7 2428.7 1255 2387C1248 2356.8 1240.8 2335.6 1233 2310C1225.1 2284.3 1216.6 2259.1 1208 2233C1199 2205.8 1189.9 2176.3 1180 2150C1170.8 2125.5 1161.2 2102.7 1151 2080C1141.1 2058 1128.6 2032.1 1120 2016C1114.6 2005.9 1111.3 1999.1 1106 1992C1101.2 1985.5 1096 1980.1 1090 1975C1083.7 1969.7 1076.1 1964.4 1069 1961C1062.7 1958 1056.3 1957 1050 1955L817 1950Z" fill="#ffe600"/>
<path d="M847 3045C847.7 3039 848.2 3035.5 849 3027C851 3006.9 853.6 2952 857.8 2925C860.6 2906.9 864.2 2891.5 868 2880C870.5 2872.5 872.9 2866.2 876 2862C878.1 2859.1 880.7 2856 883 2856C885.3 2856 887.9 2859 890 2862C893.4 2866.9 895.1 2876.3 898 2885C901.8 2896.5 905.7 2908.5 910.4 2925C917.8 2951.1 932.3 3006.8 936.7 3027C938.6 3035.4 938.9 3039 940 3045Z" fill="#ff7700"/>
<path d="M824 1950C825 1958.3 826.6 1965.4 827 1975C827.5 1987.8 825.9 2004.6 825 2020C824.1 2036.2 822.6 2055.5 821.5 2070C820.6 2081.3 819.8 2087.3 819 2100C817.5 2122 815.6 2158.5 814.5 2190C813.2 2224.8 812.4 2272.4 812 2300C811.8 2316.6 811.5 2326 811.8 2340C812.1 2355.4 813 2373.3 814 2388.6C814.9 2402.3 814.7 2417 817.2 2427.7C819 2435.5 821.3 2446.4 824.9 2447.4C827.9 2448.2 831.8 2441.5 835.9 2438.6C840.5 2435.3 846.1 2428.8 851.2 2428.8C856.3 2428.8 862 2433.5 866.5 2438.6C872.9 2445.8 877.1 2459.6 881.9 2471.5C887.4 2484.9 891.7 2499.2 897.2 2515.3C903.9 2535 911.5 2559.8 919 2581C926.1 2601.3 932.7 2616.2 941 2640C953.5 2675.7 969.1 2729 985 2775C1001.9 2823.8 1021.9 2880.1 1040 2925C1055.1 2962.5 1075.4 3005.1 1085 3027C1089.5 3037.4 1089.2 3046.2 1095 3050C1100.8 3053.8 1114.5 3053.9 1120 3050C1125.4 3046.1 1125.2 3037.5 1128 3027C1133.8 3005.4 1142.7 2958.7 1147.4 2926C1151.8 2895.5 1154.2 2869.4 1156 2837C1158.2 2798.2 1158.2 2754.7 1158 2709C1157.8 2656.1 1156.6 2593.2 1153.8 2538C1151.2 2486.1 1147.5 2437.5 1142.4 2387C1137.2 2335.9 1130 2284.2 1122.7 2233C1115.4 2181.9 1103.2 2119.3 1098.6 2080C1095.7 2055.5 1096.8 2035.8 1094 2020C1092.1 2009.4 1090.7 2000.7 1086.5 1994C1082.9 1988.3 1077.7 1984.5 1072 1981C1065.7 1977.2 1058.7 1974.8 1050 1972.5C1038.2 1969.4 1023.9 1967.9 1007 1966C983.1 1963.4 938.5 1965 920 1960C910.6 1957.4 906.7 1953.3 900 1950Z" fill="#ccff00"/>
<path d="M829.5 1990C829.4 1998.9 829.5 2007.9 829.5 2020C829.6 2038.5 829.5 2064.6 830 2090C830.6 2120.4 830.2 2158.6 833 2190C835.5 2218.2 838.1 2244.6 845 2270C851.6 2294.5 865.8 2318.6 873 2340C878.9 2357.5 882.3 2372.2 886.3 2388.6C890.4 2405.1 892.4 2420.9 897.2 2438.6C902.8 2459.2 910.9 2485 919 2504.4C925.8 2520.7 933.2 2534.7 941 2548C948 2560 954.1 2570.1 963 2581C973.2 2593.5 988.4 2609.3 1000 2618C1008.4 2624.3 1016.3 2631.9 1024 2631C1032.3 2630.1 1041.4 2618.3 1048 2610C1054.8 2601.6 1059 2593.4 1064 2580.7C1072.1 2560 1081.2 2525.5 1085.4 2495C1090.1 2461.3 1088.6 2426.2 1088.8 2387C1089 2340.2 1087.9 2284.2 1085.5 2233C1083.1 2181.9 1078.8 2118.6 1074.5 2080C1071.9 2056.3 1067.8 2037.2 1066 2023C1065 2014.6 1065.8 2008.8 1064 2003C1062.5 1998 1060.6 1993.4 1057 1990C1052.9 1986.2 1046.7 1984.3 1040 1982C1031.1 1978.9 1021.2 1976.9 1007.7 1974.5C985.7 1970.6 947.6 1965.8 920 1964C895.4 1962.4 864.9 1962.4 850 1963C843 1963.3 837.9 1962.5 834.5 1964.5C832.1 1965.9 831 1968.1 830 1971C828.5 1975.5 829.6 1982.9 829.5 1990Z" fill="#66ff33"/>
<path d="M834.5 1992C834.4 2000.2 834.3 2008.6 834.5 2020C834.8 2038.1 835.6 2064.6 836.5 2090C837.6 2120.4 837 2158.7 841 2190C844.6 2218.3 850.2 2244.5 858 2270C865.5 2294.5 876.8 2319 886.3 2340C894.3 2357.8 902.8 2373.3 910.4 2388.6C917.3 2402.3 922.7 2415.8 930 2427.7C936.7 2438.7 944.8 2450.1 952 2458C957.4 2463.9 962.2 2468.6 968 2472C973.3 2475.1 979.1 2478.1 985 2478C991.4 2477.9 999.1 2474.1 1005 2470C1011.2 2465.7 1016.5 2461.1 1021 2452.6C1028.6 2438.3 1032.4 2413.7 1037 2387C1043.9 2346.6 1049.6 2284.3 1052.6 2233C1055.5 2182 1054.5 2118.7 1054.8 2080C1055 2056.4 1055.7 2037.1 1055 2023C1054.6 2014.6 1055 2008.3 1053 2003C1051.5 1998.9 1049.3 1995.7 1046 1993C1042.1 1989.8 1035.9 1988.1 1030 1986C1023.3 1983.6 1017.7 1982 1007.7 1980C988.2 1976.1 947.2 1970.2 920 1968C896.5 1966.1 867.9 1965.9 854 1966.5C847.6 1966.8 843.2 1966.1 840 1968C837.5 1969.5 836 1972 835 1975C833.6 1979.3 834.6 1985.6 834.5 1992Z" fill="#00ff80"/>
<path d="M836.5 1993C836.5 2000.9 836.5 2008.9 837 2020C837.8 2037.9 839.8 2065.6 842 2090C844.4 2117 846.2 2148.7 851 2175C855.3 2198.3 860.9 2219 868 2240C875 2260.7 883.4 2281.3 893 2300C902.1 2317.8 914.6 2336.9 923.5 2350C929.6 2359 933.6 2366.6 940 2372C945.5 2376.7 951.8 2381.2 958.6 2381.6C966.5 2382.1 977.5 2377.6 985 2372C993.2 2365.9 998.8 2356.1 1005 2345C1013.2 2330.3 1021.7 2308.8 1027 2290C1032.3 2271.4 1034.4 2256.7 1037 2233C1041.2 2194.4 1042.9 2118.7 1043.8 2080C1044.4 2056.4 1044.7 2037.1 1044 2023C1043.6 2014.6 1044.1 2008.1 1042 2003C1040.5 1999.1 1038.3 1996.4 1035 1994C1030.9 1990.9 1025 1989.4 1018 1987.5C1007.6 1984.7 992.6 1983.5 978 1981C960.4 1978 940 1972.7 920 1970.5C899 1968.2 868.6 1967.5 855 1968C848.8 1968.2 844.6 1967.6 841.5 1969.5C839.1 1971 837.9 1973.5 837 1976.5C835.7 1980.7 836.5 1986.8 836.5 1993Z" fill="#00ffc0"/>
<path d="M840.1 1996.5L840.8 2012.5L842.4 2028.5L844.3 2044.4L846.4 2060.4L848.7 2076.2L851.1 2092.1L853.6 2108L856.3 2123.8L859.5 2139.5L863.3 2155.1L867.7 2170.5L872.3 2185.9L876.9 2201.3L881.8 2216.6L887.2 2231.7L893.3 2246.5L899.8 2261.2L906.8 2275.6L915 2289.4L925.6 2301.5L938.4 2311L953.7 2311.1L966.6 2301.9L977.5 2290.4L986.4 2277.3L993.6 2263.2L999.3 2248.4L1003.6 2233.1L1006.9 2217.6L1009.6 2202L1011.6 2186.2L1013 2170.5L1014.1 2154.7L1015.3 2138.9L1016.7 2123.1L1018.1 2107.3L1019.6 2091.6L1021 2075.8L1022.6 2060L1024.3 2044.2L1024.9 2028.4L1022.9 2013.7L1018.8 2000.5L1007.3 1990.9L992 1986.9L976.5 1983.3L961 1980.2L945.3 1977.4L929.6 1975L913.9 1973.1L898.1 1971.7L882.2 1970.7L866.4 1970.3L850.6 1971.1L840.4 1980.7Z" fill="#00f0ff"/>
<path d="M843.2 1999.2L844.1 2012L845.7 2024.7L847.6 2037.4L849.7 2050L851.9 2062.6L854.3 2075.1L856.8 2087.7L859.5 2100.2L862.5 2112.6L865.7 2125L869.2 2137.3L872.9 2149.6L876.8 2161.8L881.1 2173.8L885.9 2185.7L891.4 2197.2L897.3 2208.6L903.4 2219.8L910.1 2230.7L918.6 2240.2L929.1 2247.4L941.8 2247.7L953.2 2240.7L962.4 2231L969.6 2219.6L975.6 2207.6L980.4 2195L984 2182.1L987 2169L989.7 2155.8L992.3 2142.6L994.6 2129.4L996.7 2116.1L999 2102.9L1001.5 2089.7L1004 2076.5L1006.5 2063.3L1008.7 2050.1L1010.4 2036.7L1011.4 2023.3L1010.7 2009.9L1003.8 1999.8L993.5 1993.6L981.2 1989.2L968.1 1986.2L955 1983.2L941.8 1980.5L928.6 1978.2L915.3 1976.4L901.9 1974.9L888.5 1973.8L875.1 1973L861.6 1972.8L848.5 1974.6L842.8 1985.8Z" fill="#00b8ff"/>
<path d="M846 2000.9L847.1 2011.4L848.8 2021.9L850.8 2032.3L852.8 2042.8L854.9 2053.2L857.1 2063.5L859.5 2073.9L862 2084.2L864.7 2094.5L867.5 2104.7L870.6 2114.9L873.8 2125L877.3 2135L881.1 2144.9L885.3 2154.7L890 2164.2L895.2 2173.5L900.6 2182.6L906.6 2191.4L913.9 2199L922.9 2204.6L933.7 2204.7L943.9 2198.9L951.8 2190.4L958 2180.4L963.2 2169.9L967.7 2159.1L971.4 2148.1L974.6 2136.8L977.6 2125.6L980.5 2114.3L983.2 2102.9L985.7 2091.5L988.3 2080.1L991 2068.7L993.5 2057.2L996 2045.8L998.1 2034.3L999.3 2022.6L998.6 2011.4L995.3 2001.6L986.8 1994.9L975.6 1991.5L964.2 1988.9L952.8 1986.4L941.3 1983.9L929.9 1981.7L918.3 1979.8L906.7 1978.3L895 1977.1L883.4 1976.1L871.7 1975.5L860 1975.5L849 1978.4L845.4 1989.2Z" fill="#0084ff"/>
<path d="M849.2 2002.4L850.6 2010.7L852.7 2018.9L854.6 2027.2L856.5 2035.4L858.4 2043.7L860.4 2051.9L862.5 2060.1L864.7 2068.3L867 2076.5L869.5 2084.5L872.2 2092.6L875.1 2100.5L878.1 2108.4L881.4 2116.3L884.9 2124L888.7 2131.5L892.9 2138.9L897.6 2146L902.9 2152.5L909.3 2158L916.7 2162L925.7 2161.8L934.3 2157L941 2149.8L946.2 2141.3L950.8 2132.5L955.2 2123.7L959.2 2114.6L962.8 2105.5L966.3 2096.2L969.6 2086.9L972.7 2077.5L975.5 2068L978.1 2058.4L980.4 2048.8L982.5 2039.1L984.4 2029.4L986 2019.6L986.4 2009.7L983.2 2001.1L976.1 1996.1L967.2 1993.1L957.5 1991.2L947.8 1989.1L938.1 1987L928.4 1985.1L918.6 1983.4L908.8 1982L898.9 1980.9L889.1 1979.9L879.2 1979.1L869.3 1978.7L859.4 1978.9L851 1983.1L848.5 1992.5Z" fill="#0044ff"/>
<path d="M852.9 2004.5L854.2 2011L856.1 2017.4L857.8 2023.7L859.6 2030.1L861.4 2036.5L863.2 2042.8L865.1 2049.2L867.1 2055.5L869.1 2061.8L871.3 2068.1L873.7 2074.3L876.2 2080.4L878.8 2086.5L881.5 2092.5L884.5 2098.4L887.6 2104.3L891 2109.9L895 2115.2L899.5 2120L904.8 2124L910.8 2126.7L918.2 2126.5L925.5 2122.7L931.4 2116.9L936 2110.1L940.2 2102.9L944.3 2095.7L948.2 2088.4L951.8 2080.9L955.3 2073.3L958.5 2065.7L961.5 2058L964.3 2050.1L966.6 2042.2L968.7 2034.2L970.6 2026.1L972.1 2017.9L972.9 2009.7L971.7 2002L966.9 1996.3L959 1993.9L950.8 1992.8L942.5 1991.7L934.4 1990.3L926.2 1988.8L918 1987.4L909.8 1986.3L901.6 1985.3L893.3 1984.4L885 1983.7L876.8 1983.1L868.5 1982.9L860.2 1983.5L853.8 1988.2L852.2 1996.2Z" fill="#0000ff"/>
<path d="M856.9 2007L857.9 2011.9L859.2 2016.7L860.7 2021.4L862.3 2026.1L864 2030.8L865.8 2035.5L867.5 2040.1L869.3 2044.8L871.1 2049.4L873 2054L875 2058.6L877.1 2063.1L879.2 2067.6L881.6 2072L884 2076.4L886.5 2080.6L889.4 2084.7L892.7 2088.5L896.4 2091.8L900.5 2094.5L905.1 2096.4L911 2096.2L917.1 2093.4L922.5 2089.2L926.9 2084.1L930.8 2078.5L934.5 2072.7L937.9 2066.9L941.3 2060.9L944.4 2054.9L947.3 2048.7L950 2042.4L952.4 2036L954.5 2029.5L956.3 2023L958 2016.3L959.4 2009.7L959.1 2002.9L955.8 1997.7L950.1 1995.2L943.4 1994L936.6 1993.4L929.8 1992.9L923 1992.2L916.3 1991.3L909.5 1990.6L902.7 1989.9L895.9 1989.2L889.1 1988.7L882.3 1988.2L875.5 1987.9L868.7 1987.7L862 1989L857.3 1993.5L856.2 2000.2Z" fill="#0000cc"/>
<path d="M861.4 2005.3L862 2008.5L862.9 2011.7L864 2014.8L865.3 2017.8L866.6 2020.8L868 2023.8L869.4 2026.7L870.8 2029.7L872.3 2032.6L873.7 2035.6L875.3 2038.5L876.9 2041.3L878.6 2044.1L880.4 2046.8L882.3 2049.5L884.3 2052L886.5 2054.4L888.9 2056.6L891.5 2058.5L894.4 2060.1L897.5 2061.1L901.5 2061L906 2059.3L910 2056.7L913.6 2053.5L916.7 2049.9L919.6 2046.1L922.3 2042.1L924.9 2038L927.3 2033.9L929.6 2029.7L931.9 2025.4L934 2021.2L935.8 2016.8L937.4 2012.2L938.4 2007.6L938.5 2003L937 1999L933.3 1996.5L928.6 1995.8L923.8 1995.4L919 1995.2L914.2 1995L909.4 1994.7L904.6 1994.3L899.8 1993.9L895 1993.5L890.2 1993.2L885.4 1992.9L880.6 1992.7L875.8 1992.5L870.9 1992.3L866.3 1993.2L862.7 1996.1L861.4 2000.6Z" fill="#0000a4"/>
<path d="M864.8 2002.2L865.1 2004.2L865.7 2006.2L866.5 2008.1L867.4 2010L868.4 2011.8L869.5 2013.6L870.5 2015.4L871.6 2017.2L872.7 2019L873.8 2020.7L875 2022.4L876.2 2024.1L877.6 2025.7L879 2027.2L880.6 2028.6L882.2 2029.9L883.8 2031.1L885.6 2032.2L887.4 2033.2L889.3 2034L891.4 2034.4L894 2034.4L897 2033.4L899.8 2031.9L902.4 2030.1L904.8 2028.1L907.1 2025.9L909 2023.4L910.8 2020.8L912.6 2018.2L914.4 2015.6L916.3 2013.1L918.2 2010.5L919.9 2007.9L921.3 2005L921.5 2001.9L920.4 1999.1L917.7 1997.6L914.6 1997.1L911.5 1997L908.3 1997L905.1 1997L902 1996.9L898.8 1996.8L895.6 1996.6L892.5 1996.3L889.3 1996.2L886.2 1996L883 1995.9L879.8 1995.8L876.7 1995.7L873.5 1995.5L870.3 1995.6L867.4 1996.7L865.5 1999.1Z" fill="#00008b"/>
<path d="M200 1967C300 1966.7 402.3 1966.7 500 1966.2C593.3 1965.8 728.1 1964.3 773.5 1964.4C788.5 1964.4 797.2 1964.1 803.5 1964.7C806.5 1965 808.2 1965.2 810 1965.9C811.4 1966.4 812.6 1966.7 813.5 1968C815.1 1970.1 815.6 1975.1 816.4 1979C817.3 1983.4 818.1 1988.2 818.5 1993C819 1998 819.1 2002.8 819 2008.4C818.9 2015 818.3 2022.2 817.5 2030C816.6 2039.2 815.2 2049.3 813.5 2060C811.5 2072.4 808.6 2085.3 806 2100C802.8 2118 799.3 2138.5 796 2160C792.2 2184.7 788.3 2211.8 785 2240C781.4 2271.4 779.7 2312.7 775.6 2340C772.8 2359.2 768.9 2369 765.7 2388.6C760.9 2418.1 755.7 2463.8 752 2500C748.5 2534.2 747.2 2563.3 743.8 2600C739.6 2645 733.6 2698.1 728 2750C722 2806.1 713.8 2874.5 708.8 2925C705 2963.5 701.9 3005.1 700 3027C699.1 3037.4 698.7 3042.3 698 3050L200 3050L200 1967Z" fill="#ff7700"/>
<path d="M200 1974C300 1973.3 402.5 1972.9 500 1972C592.8 1971.2 726.3 1969 771.5 1969C786.5 1969 795.2 1968.7 801.5 1969.3C804.5 1969.6 806.3 1969.7 808 1970.5C809.5 1971.2 810.6 1972 811.5 1973.5C812.8 1975.7 813 1979.4 813.5 1983C814.1 1987.8 814.7 1993.9 814.5 2000C814.2 2007.1 812.8 2014.5 811.5 2023C809.9 2033.8 807.5 2047.1 805.5 2059.6C803.4 2072.7 801.8 2085.2 799 2100C795.6 2118.1 790.3 2138.5 786 2160C781 2184.7 775.8 2211.8 771 2240C765.7 2271.4 760.1 2312.6 755.9 2340C752.9 2359.1 750.9 2370.2 748.2 2388.6C744.7 2412.5 741.3 2443.5 737.3 2471.5C733.2 2500.3 728.5 2530.4 724 2559C719.7 2586.5 715.8 2609.3 711 2640C704.7 2680.3 698.7 2733.1 690 2780C681.1 2828.1 667.9 2880.9 658 2925C649.7 2962 639.6 3005.1 634.8 3027C632.5 3037.4 631.6 3042.3 630 3050L200 3050L200 1974Z" fill="#ff4400"/>
<path d="M200 1982.5C300 1981.3 402.8 1980.4 500 1979C592 1977.7 723.7 1974.7 768.5 1974.5C783.5 1974.4 792.2 1974.2 798.5 1974.8C801.5 1975.1 803.3 1975.1 805 1976C806.5 1976.8 807.7 1978 808.5 1979.5C809.5 1981.2 809.8 1983.4 810 1986C810.4 1989.8 810 1994.8 809.5 2000C808.9 2006.7 807.5 2014.5 806 2023C804.1 2033.8 801.1 2047.1 798.5 2059.6C795.8 2072.7 793.2 2084.7 790 2100C785.7 2120.2 780.5 2146.7 775 2170C769.5 2193.4 763.6 2214.6 757 2240C749.1 2270.4 736.8 2312.5 730.7 2340C726.5 2359 725.7 2371.5 722 2388.6C717.9 2407.8 712.3 2425.9 706.6 2449.6C698.8 2482.3 690.4 2526.3 680 2567C668.5 2611.8 653 2662.5 640 2707C628.1 2747.8 618 2786.7 605 2824C592.7 2859.2 578.4 2891.3 564.7 2925C550.9 2959 532.1 3005.2 522.6 3027C518 3037.5 515.5 3042.3 512 3050L200 3050L200 1982.5Z" fill="#ff0000"/>
<path d="M200 1988C300 1987.3 401.7 1987.4 500 1986C594.9 1984.7 742.2 1979.4 780 1980C789.6 1980.2 793.4 1979.1 798 1981C801.5 1982.4 804.5 1984.5 806 1988C808.1 1993 805.9 2003.7 805 2010C804.3 2014.9 803.4 2017.6 802 2023C799.7 2032.2 795.9 2047.5 792 2060C787.9 2073.1 783.5 2084.8 778 2100C770.7 2120.1 760.4 2146.6 752 2170C743.7 2193.3 736.8 2217.3 728 2240C719.4 2262.2 706.5 2287.6 700 2305C695.8 2316.3 695.5 2320.9 691 2333.5C681.7 2359.3 660.4 2413.6 644 2450C629 2483.3 616.2 2514.6 597 2544C577.4 2574 552.7 2611.2 527 2628C506.7 2641.2 484 2648.2 461.8 2646.7C437.4 2645.1 410.2 2629.8 387 2614C361.5 2596.6 337.7 2572.2 317 2544C293.1 2511.5 271.2 2464.5 256 2427C242.9 2394.7 235.6 2364 228 2333.5C220.9 2305 216.1 2274.3 211 2250C207 2231.2 203.7 2216.7 200 2200Z" fill="#dd0000"/>
<path d="M336 1993.5C360.4 1983.7 520.4 1990.2 600 1988.5C665.7 1987.1 751.2 1984 780 1984C789.1 1984 793.4 1982.8 798 1984.5C801.5 1985.8 804.8 1987.8 806 1991C807.7 1995.4 804.6 2004 803 2010C801.5 2015.6 799.4 2019.6 797 2026C793.3 2035.6 787.8 2049.5 783 2062C777.8 2075.5 773.9 2088.9 767 2104C758.4 2122.9 746.2 2145.3 734 2166C721 2187.9 706.2 2211.8 691 2232C676.8 2250.9 662.2 2269.5 646 2284C631.1 2297.4 613.8 2309.6 598 2317C584.8 2323.2 571.9 2327.4 559 2328C546.6 2328.5 534.7 2325.8 522 2321C506.5 2315.1 488.9 2304.5 474 2292C457.4 2278.1 442.3 2260.1 428 2240C411.6 2216.9 395.8 2187.3 383 2160C370.5 2133.3 360.7 2103.7 352 2078C344.5 2055.8 336.9 2028.8 333 2015C331.1 2008.3 327.9 2003.7 329 2000C329.8 1997.1 331.4 1995.4 336 1993.5Z" fill="#b80000"/>
<path d="M349 1995.6C353.1 1994.6 359.2 1995.4 370 1995.2C405.6 1994.5 528 1992.1 600 1990.5C663.7 1989.1 752.4 1985.9 780 1986C788.2 1986 791.9 1985.1 796 1986.5C799 1987.5 801.9 1988.9 803 1991.5C804.5 1995.2 801.7 2002.7 800 2008C798.3 2013.2 795.7 2016.9 793 2023C788.9 2032.5 783.6 2047.1 778.4 2059.6C772.9 2072.8 768.4 2085.5 761 2100C751.8 2118.1 738.8 2139.4 726 2159C712.6 2179.6 697.2 2201.6 682 2220.5C667.9 2238 653.8 2255.6 638.3 2268.7C624.4 2280.5 608.7 2291 594.4 2297C582.5 2302 570.7 2304.8 559.4 2305C548.8 2305.2 539.5 2303.1 528.7 2299C515 2293.8 498.8 2284.2 485 2273C469.4 2260.3 454.8 2243.6 441 2225C425.1 2203.5 409.5 2175.8 397 2150C384.7 2124.6 374.6 2095.1 366.5 2071.5C360 2052.7 354.5 2032.5 351 2020C349 2012.8 347.5 2007.1 346.5 2003C345.9 2000.7 344.7 1998.7 345.3 1997.5C345.8 1996.4 347.2 1996.1 349 1995.6Z" fill="#990000"/>
</g>
<g fill="none" stroke="#000" stroke-opacity="0.88" stroke-width="2.5" stroke-linejoin="round" filter="url(#blur2)">
<path d="M832.6 1990C832.4 1998.6 832.5 2007.9 832.6 2020C832.8 2038.5 833.2 2066.7 833.8 2090C834.4 2113.3 834.5 2138.1 836 2160C837.4 2179.5 839.1 2196.8 842 2215C844.9 2233.1 847.9 2249.7 853.4 2268.7C859.8 2291 871.9 2318.5 879.7 2340C886.2 2357.7 891.4 2372.3 897.2 2388.6C903.1 2405.1 907.8 2421.7 914.8 2438.6C922.3 2456.6 931.4 2478.1 941 2493.4C948.8 2505.9 956.7 2517.7 966 2525C973.8 2531.1 982.9 2536.7 991.4 2536.7C999.9 2536.7 1009.5 2532.2 1017 2525C1027.7 2514.7 1036.1 2493.8 1042.7 2474C1050.9 2449.4 1054.4 2420.2 1058 2387C1062.8 2343.1 1063.9 2284.3 1064.6 2233C1065.3 2181.9 1063.5 2110.6 1062.5 2080C1062.1 2066.9 1061.4 2061.4 1061 2052C1060.6 2042.4 1060.8 2031.9 1060.2 2023C1059.7 2015.4 1060 2007.5 1058 2002C1056.5 1998 1054.5 1995.1 1051.5 1992.4C1047.9 1989.2 1042.7 1987.2 1036.9 1985C1029 1982.1 1020.1 1980.2 1007.7 1977.8C986.4 1973.8 947.4 1968.1 920 1966C895.9 1964.1 866.1 1963.7 852 1964.5C845.6 1964.9 841.2 1964.6 838 1966.5C835.6 1968 834.2 1970.1 833.2 1973C831.7 1977.2 832.7 1983.5 832.6 1990Z"/>
<path d="M838.5 1995C838.6 2002.5 838.8 2009.6 839.6 2020C841 2037.5 844.7 2067.1 847.8 2090C850.8 2112.1 854 2136 858 2155C861.2 2170 864.3 2179.7 868.8 2195C875.1 2216.2 883.5 2247.1 893 2270C901.5 2290.7 910.3 2313.5 922 2327C930.8 2337.2 942 2348 952 2348C962 2348 973.4 2336.1 982 2327C991.4 2317.1 998.9 2304.2 1005 2290C1012.1 2273.5 1016.3 2254.5 1019.7 2233C1023.9 2206 1023.4 2167.6 1025 2140C1026.3 2117.8 1027.2 2094.7 1028.5 2080C1029.3 2071.4 1030.3 2067.4 1031 2059.6C1032 2049.2 1033.1 2033.3 1033.2 2023C1033.3 2015.5 1034.3 2008.7 1032.5 2003.5C1031.1 1999.4 1028.7 1996.3 1025.2 1993.8C1020.9 1990.7 1014.3 1989.8 1007.7 1988C999.2 1985.6 989.9 1983.6 978.4 1981.4C962.3 1978.3 939.9 1974.1 920 1972C899.5 1969.9 870.4 1968.4 857 1969C850.6 1969.3 846 1969 843 1971C840.7 1972.5 839.8 1975 839 1978C837.8 1982.3 838.5 1988.8 838.5 1995Z"/>
<path d="M844 2000C844.3 2006.4 844.7 2011.3 846 2020C848.4 2036.3 853.9 2066.8 859.5 2090C865.2 2113.5 872.6 2140.9 880 2160C885.4 2173.9 890.9 2184.3 897 2195C902.6 2204.8 908.2 2215.8 915 2222C920.3 2226.9 926.3 2231.3 932.3 2231.5C938.6 2231.7 946.1 2227.3 952 2222C959.7 2215 966.4 2202.5 971.7 2190C978.2 2175 982 2153.1 985.7 2137C988.8 2123.6 990.5 2112 993 2100C995.4 2088.6 998.1 2077.6 1000.4 2066.9C1002.5 2056.9 1005 2047.2 1006.2 2037.7C1007.3 2028.7 1008.4 2018.3 1007.7 2011.4C1007.2 2006.8 1007 2002.9 1004.7 2000C1002.3 1996.9 997.9 1995.7 993 1993.8C985.6 1991 974.5 1988.9 963.8 1986.5C950.7 1983.6 935.7 1979.9 920 1977.8C902.1 1975.4 874.7 1973.1 862 1973.5C855.7 1973.7 851 1973.4 848 1975.5C845.7 1977.1 844.8 1979.9 844 1983C842.9 1987.4 843.7 1994.1 844 2000Z"/>
<path d="M850.5 2003C851.2 2008.5 852.9 2012.6 854.8 2020C858.4 2033.7 864.4 2060.4 871 2078.6C877 2095.2 885 2114.1 892 2125C896.3 2131.8 900.2 2136.5 905 2140C909 2142.9 913.6 2145.6 918 2145.5C922.6 2145.4 927.7 2142.8 932 2139C938 2133.7 943.3 2122 948 2113.6C952.4 2105.7 955.7 2098.4 959.4 2090C963.5 2080.6 967.9 2069.7 971.1 2059.6C974.2 2049.9 976.6 2039.5 978.4 2030.4C979.9 2022.6 981.6 2014.2 981.4 2008.4C981.3 2004.6 981.2 2001.3 979.5 1999C977.8 1996.7 974.7 1995.8 971.1 1994.6C965.6 1992.8 957 1992.3 949.2 1990.9C940.2 1989.2 931.1 1986.7 920 1985C905.6 1982.8 881.8 1980 870 1980C863.5 1980 858.3 1979.6 855 1981.5C852.6 1982.9 851.4 1985.2 850.5 1988C849.3 1991.8 849.9 1997.9 850.5 2003Z"/>
<path d="M858.5 2008C858.9 2011.5 859.9 2014.4 861 2018C862.4 2022.3 864.2 2026.3 866.5 2031.8C870 2040 875.7 2053.7 880.5 2062C884.2 2068.4 887.5 2074.2 892 2078C895.9 2081.3 900.6 2084.4 905 2084.5C909.6 2084.6 914.7 2081.5 919 2078C924.5 2073.5 929.6 2064.9 934 2058C938.3 2051.3 942 2044.1 945 2037C948 2030 950.5 2021.9 952.1 2015.7C953.3 2011 954.8 2006.4 954.3 2003C954 2000.6 953.2 1998.4 951.5 1997C949.4 1995.3 945.8 1995.2 941.9 1994.6C936.1 1993.7 928.4 1993.6 920 1993C908.7 1992.2 890.3 1990.2 880 1990C873.5 1989.9 867.7 1988.9 864 1990.5C861.4 1991.6 859.5 1993.5 858.5 1996C857.2 1999 858 2004.2 858.5 2008Z"/>
<path d="M865 2002C864.9 2005.5 868.5 2011.3 871 2015.5C873.5 2019.7 876.4 2024.1 880 2027C883.4 2029.8 888 2033 892 2033C896 2033 900.6 2029.8 904 2027C907.6 2024.1 910.2 2019.4 913 2015.5C915.7 2011.7 920 2007.2 920.5 2004C920.8 2001.9 920.5 1999.8 919 1998.5C916.2 1996.2 906.4 1997.4 900 1997C893.4 1996.6 885.8 1996 880 1996C875.5 1996 870.5 1995 868 1996.5C866.2 1997.6 865.1 1999.7 865 2002Z"/>
<path d="M1048 3055C1045.2 3045.7 1043.2 3039.3 1039.7 3027C1033 3003.7 1022.1 2962.6 1011 2925.6C997.4 2880.2 978.7 2823.8 963 2775C948.1 2728.7 930.1 2675.9 919 2640C911.7 2616.4 907.3 2599.9 901.6 2581C896.4 2563.6 891.8 2546.1 886.3 2530.7C881.5 2517.2 876.8 2501.6 870.9 2493.4C867.2 2488.2 862.7 2483 858.9 2482.9C855.5 2482.8 852.1 2487 849 2491C844.1 2497.3 840 2509.3 835.9 2519.7C831.2 2531.7 827.3 2548.6 822.7 2559C819.5 2566.2 815.6 2577 812.9 2576.7C809.6 2576.3 807.1 2559.2 805.2 2548C802.6 2532.8 802 2513.8 801.2 2493.4C800.1 2467.6 800 2432.8 800.4 2405.7C800.8 2382.2 801.9 2364.2 803 2340C804.3 2310.2 806.1 2267.6 807.8 2240C809 2220.5 810.2 2204.5 811.6 2190C812.7 2178.7 813.7 2172.1 815 2160C817 2141.5 820 2113.3 822 2090C824 2066.7 825.8 2039.3 826.8 2020C827.5 2006.3 827.5 1994 828 1985C828.3 1979.3 827.6 1974.6 829 1971C830.1 1968.2 831.6 1965.9 834 1964.5C836.9 1962.8 840.3 1963 846 1962.5C860.1 1961.3 894.3 1961.3 920 1961.7C948 1962.1 983.5 1963 1007.7 1965.3C1024.9 1967 1039.6 1968.8 1051.5 1972C1060.2 1974.4 1067.1 1976.8 1073.4 1980.7C1079.1 1984.2 1084.4 1988.3 1088 1993.8C1091.9 1999.8 1093.2 2008.2 1095.3 2015.7C1097.5 2023.5 1098.7 2030.9 1100.6 2040C1103 2051.7 1105.5 2064.7 1108.6 2080C1112.7 2100.7 1118.2 2128.1 1123.2 2153C1128.4 2179.2 1133.2 2202.3 1139.3 2233.4C1147.7 2276.4 1161.3 2335.9 1168.7 2387C1176 2437.4 1179.5 2486.1 1183.7 2538C1188.2 2593.2 1191.4 2656.1 1194.4 2709C1197 2754.7 1200 2798.2 1200.8 2837C1201.5 2869.3 1200.7 2895.4 1200 2926C1199.2 2958.6 1197.3 3003.8 1196 3027C1195.3 3039.2 1194.7 3045.7 1194 3055"/>
<path d="M200 1967C300 1966.7 402.3 1966.5 500 1966C593.3 1965.5 728.1 1963.9 773.5 1964C788.5 1964 797.2 1963.7 803.5 1964.3C806.5 1964.6 808.2 1964.7 810 1965.5C811.4 1966.1 812.6 1966.6 813.5 1968C815 1970.2 815.6 1975.1 816.4 1979C817.3 1983.4 818.1 1988.2 818.5 1993C819 1998 819.1 2002.8 819 2008.4C818.9 2015 818.3 2022.2 817.5 2030C816.6 2039.2 815.1 2049.3 813.5 2060C811.6 2072.4 809.1 2085.3 806.5 2100C803.3 2118 799 2138.5 795.5 2160C791.5 2184.7 788.4 2211.9 784.4 2240C779.9 2271.5 773.8 2312.6 770 2340C767.3 2359.1 766 2369.3 763.5 2388.6C759.8 2416.9 754.4 2458.3 750.4 2493.4C746.4 2528.8 743.8 2562.6 739.4 2600C734.5 2641.6 728.1 2684.5 722 2731.5C715 2785.7 706.4 2853.8 700 2906.8C694.7 2950.6 689 3002.6 686 3027C684.7 3037.7 684 3042.3 683 3050"/>
<path d="M349 1995.6C353.1 1994.6 359.2 1995.4 370 1995.2C405.6 1994.5 528 1992.1 600 1990.5C663.7 1989.1 752.4 1985.9 780 1986C788.2 1986 791.9 1985.1 796 1986.5C799 1987.5 801.9 1988.9 803 1991.5C804.5 1995.2 801.7 2002.7 800 2008C798.3 2013.2 795.7 2016.9 793 2023C788.9 2032.5 783.6 2047.1 778.4 2059.6C772.9 2072.8 768.4 2085.5 761 2100C751.8 2118.1 738.8 2139.4 726 2159C712.6 2179.6 697.2 2201.6 682 2220.5C667.9 2238 653.8 2255.6 638.3 2268.7C624.4 2280.5 608.7 2291 594.4 2297C582.5 2302 570.7 2304.8 559.4 2305C548.8 2305.2 539.5 2303.1 528.7 2299C515 2293.8 498.8 2284.2 485 2273C469.4 2260.3 454.8 2243.6 441 2225C425.1 2203.5 409.5 2175.8 397 2150C384.7 2124.6 374.6 2095.1 366.5 2071.5C360 2052.7 354.5 2032.5 351 2020C349 2012.8 347.5 2007.1 346.5 2003C345.9 2000.7 344.7 1998.7 345.3 1997.5C345.8 1996.4 347.2 1996.1 349 1995.6Z"/>
<path d="M865 3035C865.5 3032.3 865.8 3030.6 866.5 3027C868 3019.2 871.2 3000.7 874 2990C876.2 2981.7 877.7 2973.2 881 2968C883.3 2964.3 886.6 2959.9 889.3 2960C891.9 2960 894.7 2964.4 897 2968C900.3 2973.3 902.1 2981.7 905 2990C908.7 3000.7 914.7 3019.1 917 3027C918 3030.6 918.3 3032.3 919 3035"/>
<path d="M200 1982.5C300 1981.2 402.7 1980.2 500 1978.8C592.1 1977.4 724.1 1974.2 769 1974C784 1973.9 792.7 1973.7 799 1974.3C802 1974.6 803.8 1974.6 805.5 1975.5C807 1976.3 808.2 1977.5 809 1979C810 1980.8 810.4 1983.2 810.6 1986C810.9 1989.8 810.1 1994.8 809.5 2000C808.7 2006.7 807.5 2014.5 806 2023C804.1 2033.8 801.1 2047.1 798.5 2059.6C795.8 2072.7 793.4 2084.7 790 2100C785.6 2120.2 779.8 2146.7 774 2170C768.2 2193.4 761.8 2214.6 755 2240C746.9 2270.4 735.2 2312.6 728.5 2340C723.8 2359 721.9 2371.5 717.5 2388.6C712.6 2407.8 706.7 2425.9 700 2449.6C690.8 2482.4 679.9 2526.3 667.5 2567C653.8 2611.9 637.1 2663.1 620.8 2707.5C605.8 2748.4 590.1 2786.8 574 2824C558.8 2859.1 544.5 2891.6 527 2925C508.8 2959.5 479.9 3006 466.5 3027.7C460.2 3037.9 456.8 3042.6 452 3050" stroke-width="1.7"/>
<path d="M200 2915C203.1 2922.2 205.5 2928 209.4 2936.6C215.2 2949.6 223.3 2969.7 232 2985C240.5 3000 252.9 3015.7 260.8 3027.7C266.4 3036.3 270.3 3042.6 275 3050" stroke-width="1.7"/>
</g>
</g>
<rect x="209.6" y="2388.5" width="1193.9" height="536.8" fill="#fff" fill-opacity="0.4"/>
<g clip-path="url(#clipBov)"><path d="M200 1988C300 1987.3 401.7 1987.4 500 1986C594.9 1984.7 742.2 1979.4 780 1980C789.6 1980.2 793.4 1979.1 798 1981C801.5 1982.4 804.5 1984.5 806 1988C808.1 1993 805.9 2003.7 805 2010C804.3 2014.9 803.4 2017.6 802 2023C799.7 2032.2 795.9 2047.5 792 2060C787.9 2073.1 783.5 2084.8 778 2100C770.7 2120.1 760.4 2146.6 752 2170C743.7 2193.3 736.8 2217.3 728 2240C719.4 2262.2 706.5 2287.6 700 2305C695.8 2316.3 695.5 2320.9 691 2333.5C681.7 2359.3 660.4 2413.6 644 2450C629 2483.3 616.2 2514.6 597 2544C577.4 2574 552.7 2611.2 527 2628C506.7 2641.2 484 2648.2 461.8 2646.7C437.4 2645.1 410.2 2629.8 387 2614C361.5 2596.6 337.7 2572.2 317 2544C293.1 2511.5 271.2 2464.5 256 2427C242.9 2394.7 235.6 2364 228 2333.5C220.9 2305 216.1 2274.3 211 2250C207 2231.2 203.7 2216.7 200 2200Z" fill="#f46767" filter="url(#blur1)"/></g>
<path d="M633.5 2672L621.5 2707L608 2744L598 2771L589.5 2794" fill="none" stroke="#fff" stroke-width="2.2" stroke-opacity="0.75" stroke-linecap="round" stroke-dasharray="26 7 16 9 30 12 12 8" filter="url(#blur2)"/>
<g fill="none" stroke="#4a4a4a" stroke-opacity="0.75" stroke-width="1.5" filter="url(#blur2)"><rect x="208.7" y="1958.6" width="1197.7" height="1069.8" stroke="#9a9a9a" stroke-opacity="1" stroke-width="2.2"/><path d="M409.3 1959.5v9M409.3 3027.5v-9M608.8 1959.5v9M608.8 3027.5v-9M808.3 1959.5v9M808.3 3027.5v-9M1007.8 1959.5v9M1007.8 3027.5v-9M1207.3 1959.5v9M1207.3 3027.5v-9M209.6 2137.6h9M1405.5 2137.6h-9M209.6 2315.7h9M1405.5 2315.7h-9M209.6 2493.8h9M1405.5 2493.8h-9M209.6 2671.9h9M1405.5 2671.9h-9M209.6 2850h9M1405.5 2850h-9"/></g>
<text x="247" y="2567.5" font-size="58" text-anchor="start" class="k">Digging direction</text>
<path d="M265.5 2666.5L476 2666.5L476 2625L558 2710L476 2791L476 2750.5L265.5 2750.5Z" fill="none" stroke="#000" stroke-width="8.5" stroke-dasharray="21 9"/>
<text transform="translate(137.2 1947) scale(1.078 1)" font-size="63.2" text-anchor="middle">0</text>
<text transform="translate(137.2 2309) scale(1.078 1)" font-size="63.2" text-anchor="middle">2</text>
<text transform="translate(137.2 2683.5) scale(1.078 1)" font-size="63.2" text-anchor="middle">4</text>
<text transform="translate(137.2 3040.5) scale(1.078 1)" font-size="63.2" text-anchor="middle">6</text>
<text transform="translate(68.5 2963) rotate(-90)" font-size="66" text-anchor="start">Depth of 4<tspan font-size="36" dy="12">#</tspan><tspan dy="-12"> coal seam base plate / m</tspan></text>
<text transform="translate(200 3135) scale(1.07 1)" font-size="61.5" text-anchor="middle">−30</text>
<text transform="translate(388 3140) scale(1.07 1)" font-size="61.5" text-anchor="middle">−20</text>
<text transform="translate(594 3135) scale(1.07 1)" font-size="61.5" text-anchor="middle">−10</text>
<text transform="translate(806 3135) scale(1.07 1)" font-size="61.5" text-anchor="middle">0</text>
<text transform="translate(1017 3138) scale(1.07 1)" font-size="61.5" text-anchor="middle">10</text>
<text transform="translate(1224 3140) scale(1.07 1)" font-size="61.5" text-anchor="middle">20</text>
<text transform="translate(1421 3135) scale(1.07 1)" font-size="61.5" text-anchor="middle">30</text>
<text transform="translate(359.5 3227) scale(1.072 1)" font-size="60.6" text-anchor="start">Distance to solid coal boundary / m</text>
<rect x="1466" y="1961" width="64" height="1067" fill="url(#cbB)" stroke="#666" stroke-width="1.5" filter="url(#blur2)"/>
<path d="M1530 2030.2h-9M1530 2153.8h-9M1530 2277.4h-9M1530 2401h-9M1530 2524.6h-9M1530 2648.2h-9M1530 2771.8h-9M1530 2895.4h-9M1530 3019h-9" stroke="#333" stroke-width="1.6" fill="none" filter="url(#blur2)"/>
<text transform="translate(1573 2044.5) scale(1.035 1)" font-size="66" text-anchor="start">−4</text>
<text transform="translate(1573 2164.5) scale(1.035 1)" font-size="66" text-anchor="start">−6</text>
<text transform="translate(1573 2286) scale(1.035 1)" font-size="66" text-anchor="start">−8</text>
<text transform="translate(1567 2420) scale(1.035 1)" font-size="66" text-anchor="start">−10</text>
<text transform="translate(1567 2548.5) scale(1.035 1)" font-size="66" text-anchor="start">−12</text>
<text transform="translate(1567 2678.5) scale(1.035 1)" font-size="66" text-anchor="start">−14</text>
<text transform="translate(1567 2797) scale(1.035 1)" font-size="66" text-anchor="start">−16</text>
<text transform="translate(1567 2905) scale(1.035 1)" font-size="66" text-anchor="start">−18</text>
<text transform="translate(1567 3034.5) scale(1.035 1)" font-size="66" text-anchor="start">−20</text>
<text transform="translate(1777.5 2699.5) rotate(-90) scale(0.94 1)" font-size="95" text-anchor="start">Stresses / M<tspan dx="6.3">P</tspan><tspan dx="-2.8">a</tspan></text>
<text x="927.5" y="3399" font-size="79" text-anchor="middle" textLength="600" lengthAdjust="spacingAndGlyphs">(<tspan font-weight="bold">b</tspan>) Vertical stress.</text>
</g>
</svg></body></html>
